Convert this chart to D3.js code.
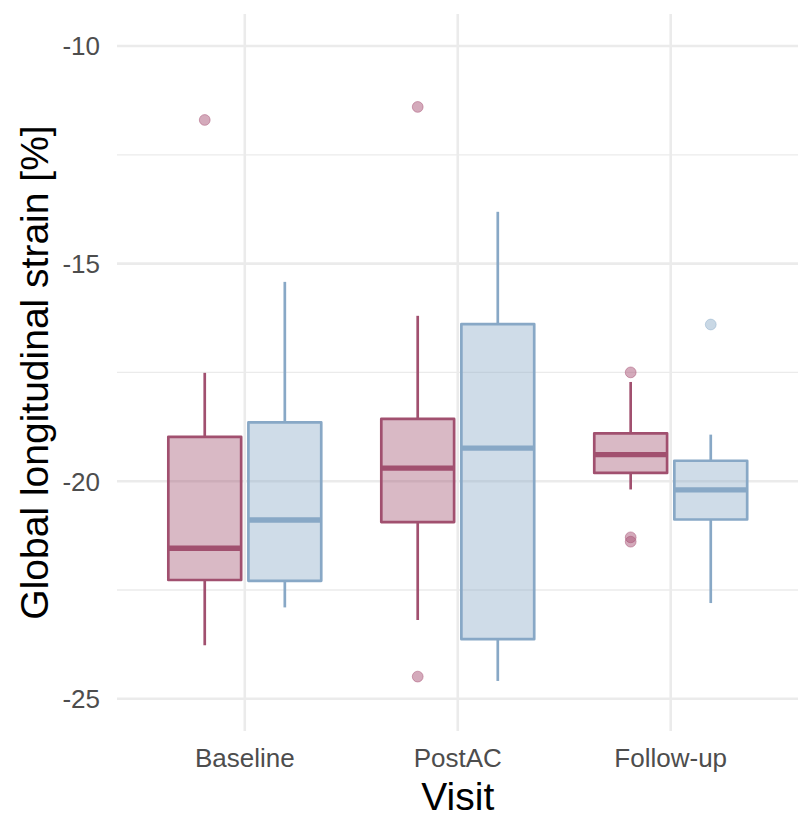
<!DOCTYPE html>
<html><head><meta charset="utf-8">
<script src="https://cdn.jsdelivr.net/npm/d3@7"></script>
<style>html,body{margin:0;padding:0;background:#fff;}svg{display:block;}</style>
</head><body>
<script>
// ---- data ----
const visits = ["Baseline", "PostAC", "Follow-up"];
const yTicks = [-25, -20, -15, -10];
const yMinorTicks = [-22.5, -17.5, -12.5];

// group 1 (pink)
const pinkLower  = [-23.77, -23.19, -20.19];
const pinkQ1     = [-22.27, -20.94, -19.81];
const pinkMedian = [-21.54, -19.70, -19.39];
const pinkQ3     = [-18.98, -18.57, -18.90];
const pinkUpper  = [-17.51, -16.20, -17.72];
const pinkOutliers = [[-11.70], [-11.40, -24.49], [-17.50, -21.29, -21.39]];

// group 2 (blue)
const blueLower  = [-22.90, -24.59, -22.80];
const blueQ1     = [-22.29, -23.63, -20.88];
const blueMedian = [-20.89, -19.24, -20.20];
const blueQ3     = [-18.65, -16.39, -19.53];
const blueUpper  = [-15.42, -13.81, -18.93];
const blueOutliers = [[], [], [-16.40]];

// ---- layout ----
const W = 798, H = 817;
const panel = {left: 117, right: 798.5, top: 14, bottom: 731};

const svg = d3.select("body").append("svg").attr("width", W).attr("height", H)
  .style("font-family", "'Liberation Sans', Arial, sans-serif");

const x = d3.scalePoint().domain(visits).range([panel.left, panel.right]).padding(0.6);
const step = x.step();
const y = d3.scaleLinear().domain([-25.74, -9.265]).range([panel.bottom, panel.top]);

// gridlines
const grid = svg.append("g");
grid.selectAll(".ymin").data(yMinorTicks).join("line")
  .attr("x1", panel.left).attr("x2", panel.right)
  .attr("y1", d => y(d)).attr("y2", d => y(d))
  .attr("stroke", "#ebebeb").attr("stroke-width", 1.3);
grid.selectAll(".ymaj").data(yTicks).join("line")
  .attr("x1", panel.left).attr("x2", panel.right)
  .attr("y1", d => y(d)).attr("y2", d => y(d))
  .attr("stroke", "#ebebeb").attr("stroke-width", 2.6);
grid.selectAll(".xmaj").data(visits).join("line")
  .attr("x1", d => x(d)).attr("x2", d => x(d))
  .attr("y1", panel.top).attr("y2", panel.bottom)
  .attr("stroke", "#ebebeb").attr("stroke-width", 2.6);

// boxes
const groups = [
  {lower: pinkLower, q1: pinkQ1, med: pinkMedian, q3: pinkQ3, upper: pinkUpper, out: pinkOutliers,
   offset: -0.188, stroke: "#a1506f", fill: "rgba(161,80,111,0.4)", pt: "rgba(170,85,120,0.5)"},
  {lower: blueLower, q1: blueQ1, med: blueMedian, q3: blueQ3, upper: blueUpper, out: blueOutliers,
   offset: 0.188, stroke: "#88a8c6", fill: "rgba(136,168,198,0.4)", pt: "rgba(136,168,198,0.45)"}
];
const halfW = 0.171 * step;

groups.forEach(g => {
  const gg = svg.append("g");
  visits.forEach((v, i) => {
    const cx = x(v) + g.offset * step;
    // whiskers
    gg.append("line").attr("x1", cx).attr("x2", cx)
      .attr("y1", y(g.upper[i])).attr("y2", y(g.q3[i]))
      .attr("stroke", g.stroke).attr("stroke-width", 2.7);
    gg.append("line").attr("x1", cx).attr("x2", cx)
      .attr("y1", y(g.q1[i])).attr("y2", y(g.lower[i]))
      .attr("stroke", g.stroke).attr("stroke-width", 2.7);
    // box
    gg.append("rect").attr("x", cx - halfW).attr("width", 2 * halfW)
      .attr("y", y(g.q3[i])).attr("height", y(g.q1[i]) - y(g.q3[i]))
      .attr("fill", g.fill).attr("stroke", g.stroke).attr("stroke-width", 2.7)
      .attr("stroke-linejoin", "round");
    // median
    gg.append("line").attr("x1", cx - halfW).attr("x2", cx + halfW)
      .attr("y1", y(g.med[i])).attr("y2", y(g.med[i]))
      .attr("stroke", g.stroke).attr("stroke-width", 5.4);
    // outliers
    g.out[i].forEach(o => {
      gg.append("circle").attr("cx", cx).attr("cy", y(o)).attr("r", 5.4)
        .attr("fill", g.pt).attr("stroke", g.pt).attr("stroke-width", 1);
    });
  });
});

// y tick labels
svg.append("g").selectAll("text").data(yTicks).join("text")
  .attr("x", 100).attr("y", d => y(d)).attr("dy", "0.36em")
  .attr("text-anchor", "end").attr("font-size", 26).attr("fill", "#4d4d4d")
  .text(d => d3.format("d")(d).replace("−", "-"));

// x tick labels
svg.append("g").selectAll("text").data(visits).join("text")
  .attr("x", d => x(d)).attr("y", 767)
  .attr("text-anchor", "middle").attr("font-size", 26).attr("fill", "#4d4d4d")
  .text(d => d);

// axis titles
svg.append("text").attr("x", (panel.left + panel.right) / 2).attr("y", 810)
  .attr("text-anchor", "middle").attr("font-size", 39).attr("fill", "#000")
  .text("Visit");
svg.append("text")
  .attr("transform", `translate(47.5,${(panel.top + panel.bottom) / 2}) rotate(-90)`)
  .attr("text-anchor", "middle").attr("font-size", 39).attr("fill", "#000")
  .text("Global longitudinal strain [%]");
</script>
</body></html>
